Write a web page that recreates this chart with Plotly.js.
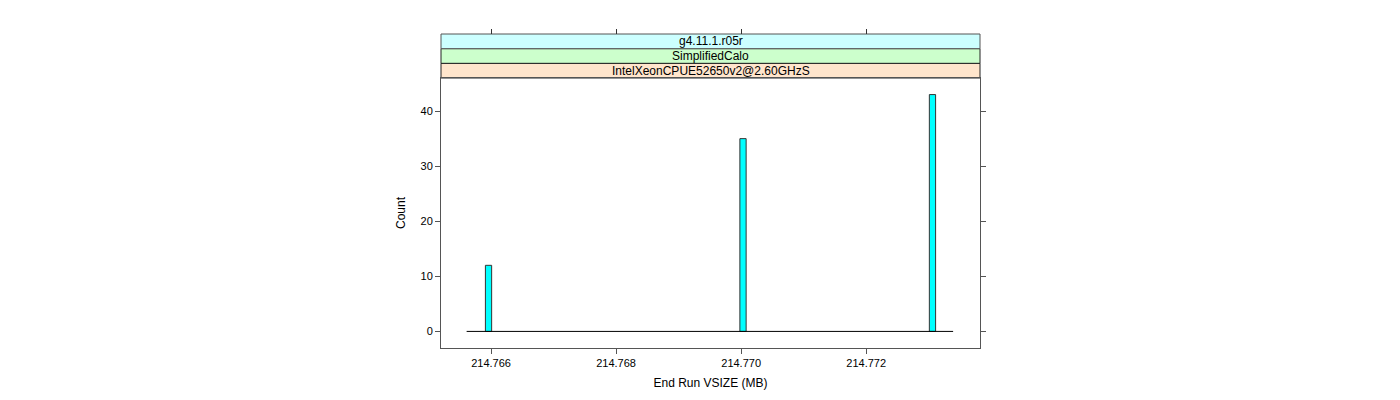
<!DOCTYPE html>
<html>
<head>
<meta charset="utf-8">
<script src="https://cdn.plot.ly/plotly-3.0.1.min.js"></script>
<style>html,body{margin:0;padding:0;background:#fff;}#chart{width:1400px;height:400px;}</style>
</head>
<body>
<div id="chart"></div>
<script>
// Data
const binCenters = [214.76596, 214.77003, 214.77306];
const counts = [12, 35, 43];
const binWidth = 0.0001;
const breaksRange = [214.76561, 214.77339];
const xTickVals = [214.766, 214.768, 214.770, 214.772];
const xTickText = ["214.766", "214.768", "214.770", "214.772"];
const yTickVals = [0, 10, 20, 30, 40];
const stripLabels = ["IntelXeonCPUE52650v2@2.60GHzS", "SimplifiedCalo", "g4.11.1.r05r"];
const stripColors = ["#ffe5cc", "#ccffcc", "#ccffff"];

const fontFam = "Liberation Sans, Arial, Helvetica, sans-serif";
const axisCol = "#555555";
const xRange = [214.76520, 214.77382];
const yRange = [-3.01, 46.01];
const panelTop = 0.8599;
const stripH = (1 - panelTop) / 3;

const traces = [
  {
    type: "scatter", mode: "lines",
    x: breaksRange, y: [0, 0],
    line: {color: "#000000", width: 1},
    hoverinfo: "skip", showlegend: false
  },
  {
    type: "bar",
    x: binCenters, y: counts, width: binWidth,
    marker: {color: "#00FFFF", line: {color: "#333333", width: 1}},
    showlegend: false
  },
  {
    type: "scatter", mode: "lines",
    x: breaksRange, y: [0, 0], xaxis: "x2",
    line: {color: "rgba(0,0,0,0)", width: 0},
    hoverinfo: "skip", showlegend: false
  }
];

const shapes = [];
const annotations = [];
for (let i = 0; i < stripLabels.length; i++) {
  const y0 = panelTop + i * stripH;
  shapes.push({
    type: "rect", xref: "paper", yref: "paper",
    x0: 0, x1: 1, y0: y0, y1: y0 + stripH,
    fillcolor: stripColors[i],
    line: {color: i === 2 ? axisCol : "#222222", width: 1},
    layer: "below"
  });
  annotations.push({
    xref: "paper", yref: "paper", x: 0.5, y: y0 + stripH / 2,
    text: stripLabels[i], showarrow: false,
    font: {family: fontFam, size: 12, color: "#000"},
    xanchor: "center", yanchor: "middle"
  });
}

const layout = {
  width: 1400, height: 400,
  margin: {l: 441, r: 420, t: 34, b: 52, pad: 0},
  paper_bgcolor: "#ffffff", plot_bgcolor: "#ffffff",
  font: {family: fontFam, size: 11, color: "#000"},
  bargap: 0,
  showlegend: false,
  xaxis: {
    range: xRange, tickvals: xTickVals, ticktext: xTickText,
    ticks: "outside", ticklen: 5, tickcolor: axisCol, tickwidth: 1,
    showline: true, mirror: true, linecolor: axisCol, linewidth: 1,
    showgrid: false, zeroline: false,
    tickfont: {family: fontFam, size: 11, color: "#000"},
    title: {text: "End Run VSIZE (MB)", font: {family: fontFam, size: 12, color: "#000"}, standoff: 10},
    anchor: "y"
  },
  xaxis2: {
    range: xRange, tickvals: xTickVals, overlaying: "x",
    anchor: "free", position: 1, side: "top",
    ticks: "outside", ticklen: 5, tickcolor: "#333333", tickwidth: 1,
    showticklabels: false, showline: false, showgrid: false, zeroline: false
  },
  yaxis: {
    range: yRange, domain: [0, panelTop], tickvals: yTickVals,
    ticks: "outside", ticklen: 5, tickcolor: axisCol, tickwidth: 1,
    showline: true, mirror: "ticks", linecolor: axisCol, linewidth: 1,
    showgrid: false, zeroline: false,
    tickfont: {family: fontFam, size: 11, color: "#000"},
    title: {text: "Count", font: {family: fontFam, size: 12, color: "#000"}, standoff: 12}
  },
  shapes: shapes,
  annotations: annotations
};

Plotly.newPlot("chart", traces, layout, {staticPlot: true, displayModeBar: false});
</script>
</body>
</html>
